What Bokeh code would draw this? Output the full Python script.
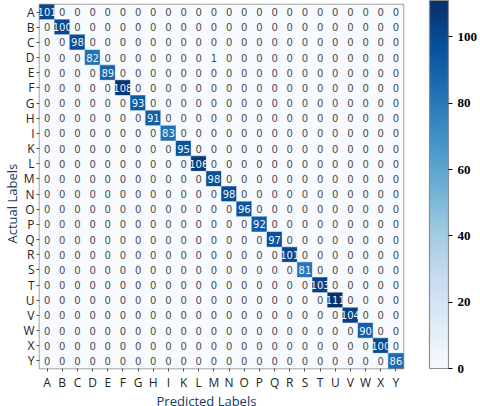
import numpy as np
from bokeh.plotting import figure
from bokeh.models import ColumnDataSource, LinearColorMapper, ColorBar, FixedTicker, Title
from bokeh.palettes import Blues256
from bokeh.core.properties import value
from bokeh.embed import file_html
from bokeh.resources import INLINE

labels = ["A", "B", "C", "D", "E", "F", "G", "H", "I", "K", "L", "M",
          "N", "O", "P", "Q", "R", "S", "T", "U", "V", "W", "X", "Y"]
diagonal = [101, 100, 98, 82, 89, 108, 93, 91, 83, 95, 106, 98,
            98, 96, 92, 97, 101, 81, 103, 111, 104, 90, 100, 86]
# (actual, predicted, count)
off_diagonal = [("D", "M", 1)]
cbar_ticks = [0, 20, 40, 60, 80, 100]

n = len(labels)
mat = np.zeros((n, n), dtype=int)
for i, v in enumerate(diagonal):
    mat[i, i] = v
for a, pr, v in off_diagonal:
    mat[labels.index(a), labels.index(pr)] = v

vmax = int(mat.max())
xs, ys, vals, tcols = [], [], [], []
for i, a in enumerate(labels):
    for j, pr in enumerate(labels):
        xs.append(pr)
        ys.append(a)
        vals.append(int(mat[i, j]))
        tcols.append("#eef4fb" if mat[i, j] > vmax / 2 else "#4a4a4a")
src = ColumnDataSource(dict(x=xs, y=ys, v=vals, t=[str(v) for v in vals], tc=tcols))

palette = list(reversed(Blues256))
mapper = LinearColorMapper(palette=palette, low=0, high=vmax)

p = figure(x_range=labels, y_range=list(reversed(labels)), width=480, height=406,
           output_backend="svg", toolbar_location=None,
           min_border_left=39, min_border_right=73, min_border_top=4, min_border_bottom=34)

p.rect(x="x", y="y", width=1, height=1, source=src,
       fill_color={"field": "v", "transform": mapper},
       line_color={"field": "v", "transform": mapper}, line_width=0.5)
p.text(x="x", y="y", text="t", source=src, text_color="tc",
       text_align="center", text_baseline="middle",
       text_font=value("DejaVu Sans"), text_font_size="10px")

p.grid.visible = False
p.outline_line_color = "#8c8c8c"
p.outline_line_width = 1.5
for ax in (p.xaxis[0], p.yaxis[0]):
    ax.axis_line_color = None
    ax.major_tick_in = 0
    ax.major_tick_out = 3
    ax.major_tick_line_color = "#555555"
    ax.minor_tick_line_color = None
    ax.major_label_text_font = "Open Sans"
    ax.major_label_text_font_size = "12px"
    ax.major_label_text_color = "#222222"
    ax.major_label_standoff = 2

cbar = ColorBar(color_mapper=mapper, ticker=FixedTicker(ticks=cbar_ticks),
                width=19, height=368, padding=0, margin=0,
                major_tick_in=0, major_tick_out=4, major_tick_line_color="#000000",
                minor_tick_line_color=None,
                major_label_text_font="Liberation Serif", major_label_text_font_style="bold",
                major_label_text_font_size="13px", major_label_text_color="#000000",
                bar_line_color="#8c8c8c", bar_line_width=1.2,
                background_fill_color=None, location=(26, 0))
p.add_layout(cbar, "right")

p.add_layout(Title(text="Predicted Labels", align="left", offset=117, standoff=-7,
                   text_font="Open Sans", text_font_size="13px", text_font_style="normal",
                   text_color="#203864"), "below")
p.add_layout(Title(text="Actual Labels", align="left", offset=125, standoff=0,
                   text_font="Open Sans", text_font_size="13px", text_font_style="normal",
                   text_color="#203864"), "left")

open("out.html", "w").write(file_html(p, INLINE))
